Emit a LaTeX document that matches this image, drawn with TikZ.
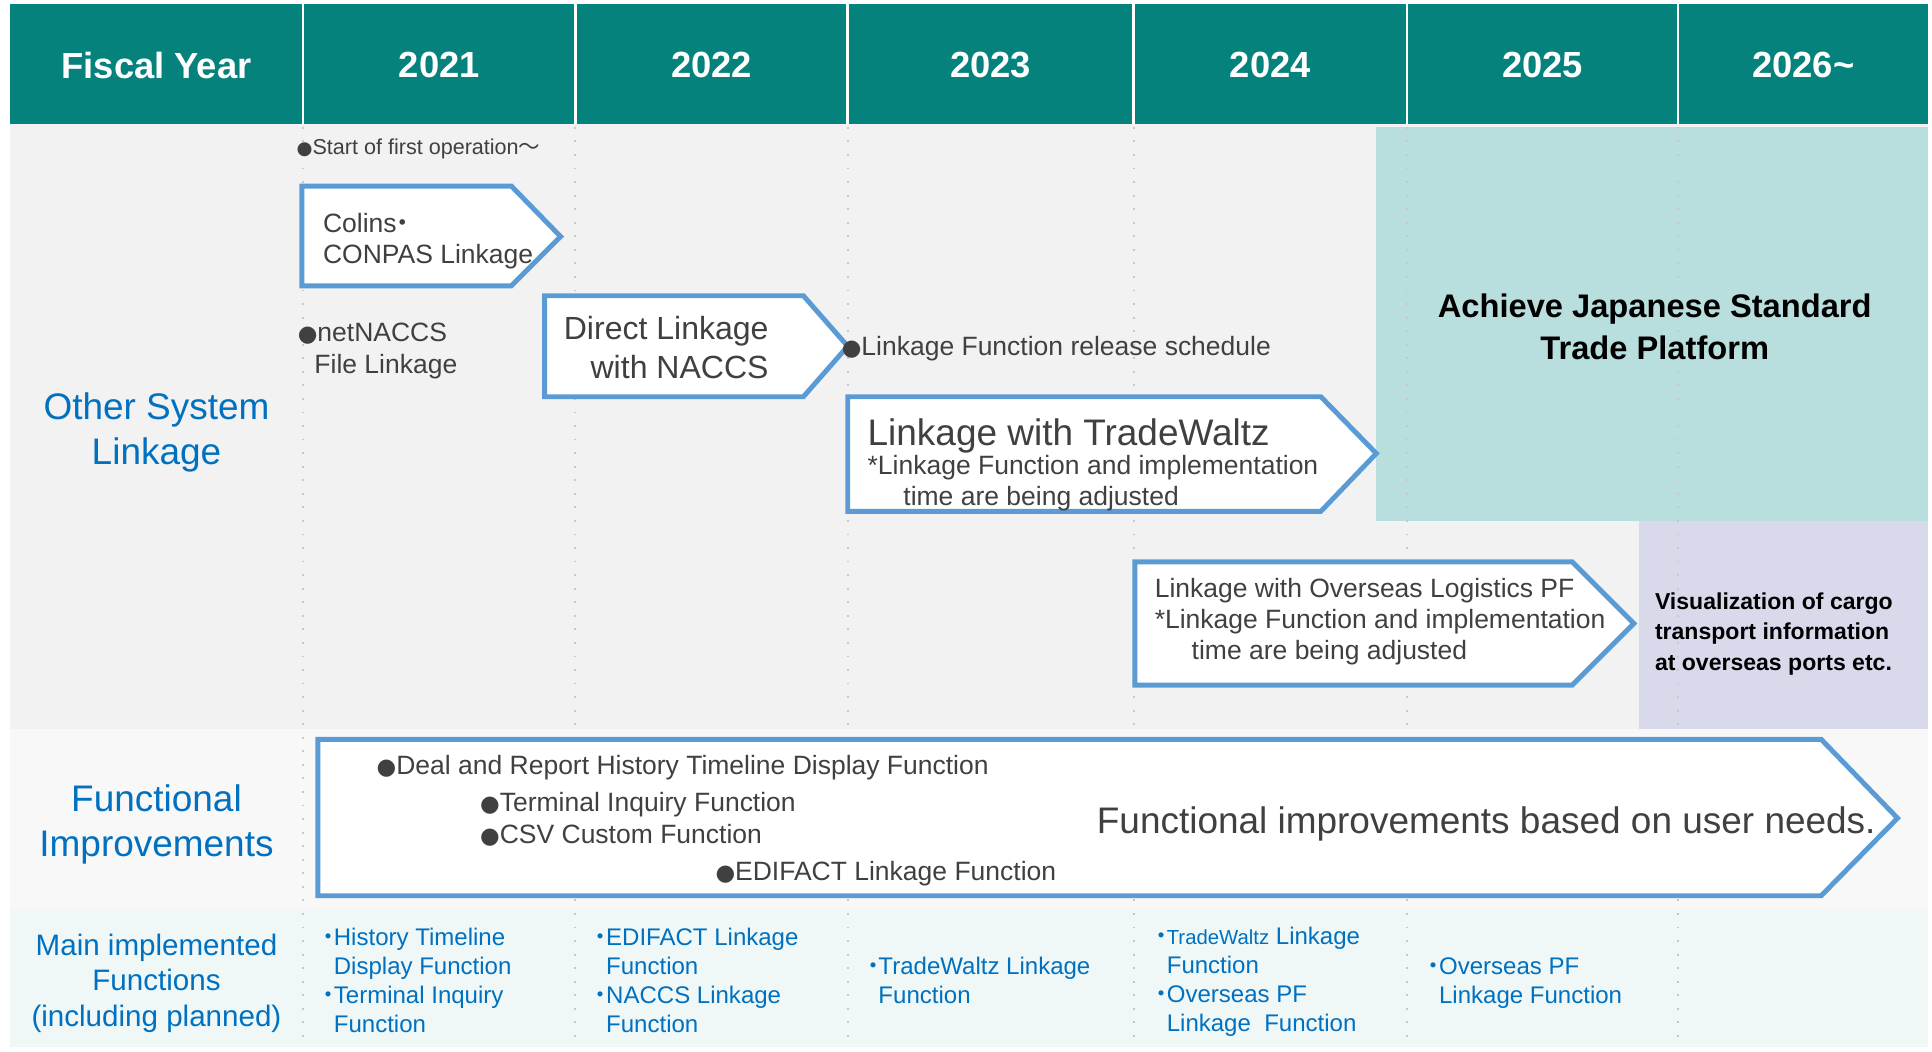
\documentclass[tikz,border=0pt]{standalone}
\usepackage{fontspec}
\usepackage{graphicx}
\setmainfont{Liberation Sans}
\newfontfamily\cjk{Noto Sans CJK JP}
\newfontfamily\symfont{DejaVu Sans}
\usepackage{tikz}
\usetikzlibrary{positioning}

\definecolor{headteal}{HTML}{06827D}
\definecolor{platteal}{HTML}{B8DFDD}
\definecolor{vislav}{HTML}{D9D9EC}
\definecolor{bandgray}{HTML}{F2F2F2}
\definecolor{bandwhite}{HTML}{F8F8F8}
\definecolor{bandcyan}{HTML}{EFF8F7}
\definecolor{arrowblue}{HTML}{5B9BD5}
\definecolor{labelblue}{HTML}{0070C0}
\definecolor{darktext}{HTML}{404040}
\definecolor{gridgray}{HTML}{C8C8C8}

\newcommand{\kdot}{\makebox[0.45em][c]{\cjk ・}}
\newcommand{\bul}{\scalebox{0.85}{\symfont ●}}

\tikzset{
  yearhead/.style={text=white, inner sep=0pt, font=\bfseries\fontsize{29.5}{34}\selectfont},
  rowhead/.style={text=labelblue, align=center, inner sep=0pt, font=\fontsize{30}{36.5}\selectfont},
  arrowbox/.style={draw=arrowblue, line width=4pt, fill=white},
  notetext/.style={text=darktext, anchor=west, align=left, inner sep=0pt, font=\fontsize{21.5}{25.5}\selectfont},
  bignote/.style={notetext, font=\fontsize{30}{36}\selectfont},
  smallnote/.style={notetext, font=\fontsize{17.5}{21}\selectfont},
  mainfunc/.style={text=labelblue, anchor=west, align=left, inner sep=0pt, font=\fontsize{19.5}{23.5}\selectfont},
  goaltext/.style={text=black, align=center, inner sep=0pt, font=\bfseries\fontsize{26.5}{34}\selectfont},
}

\begin{document}
\begin{tikzpicture}[x=1pt, y=-1pt]

\fill[white] (0,0) rectangle (1568,853);
\useasboundingbox (0,0) rectangle (1568,853);

% bands
\fill[headteal] (8,3) rectangle (1565,101);
\fill[bandgray] (8,101) rectangle (1565,592);
\fill[bandwhite] (8,592) rectangle (1565,738);
\fill[bandcyan] (8,738) rectangle (1565,850);

\fill[platteal] (1117,103) rectangle (1565,423);
\fill[vislav] (1330,423) rectangle (1565,592);

\foreach \xc in {246,467,688,920,1142,1362} {
  \draw[white, line width=2pt] (\xc,3) -- (\xc,101);
  \draw[gridgray, line width=1.5pt, dash pattern=on 1.5pt off 9.5pt] (\xc,103) -- (\xc,850);
}

\foreach \xa/\xb/\yr/\nm in {8/246/Fiscal Year/fy, 246/467/2021/y21, 467/688/2022/y22, 688/920/2023/y23, 920/1142/2024/y24, 1142/1362/2025/y25, 1362/1565/2026\textasciitilde/y26}
  \node[yearhead] (\nm) at ({(\xa+\xb)/2},53) {\yr};

% arrows
\draw[arrowbox] (245,151) -- (415,151) -- (455,192) -- (415,232) -- (245,232) -- cycle;
\draw[arrowbox] (442,240) -- (652,240) -- (688,281) -- (652,322) -- (442,322) -- cycle;
\draw[arrowbox] (688,322) -- (1072,322) -- (1117,368) -- (1072,415) -- (688,415) -- cycle;
\draw[arrowbox] (921,456) -- (1276,456) -- (1326,506) -- (1276,556) -- (921,556) -- cycle;
\draw[arrowbox] (258,600) -- (1478,600) -- (1540,664) -- (1478,727) -- (258,727) -- cycle;

\node[smallnote] (startop) at (240.5,121) {\bul Start of first operation{\cjk ～}};
\node[notetext] (colins) at (262,195.5) {Colins\kdot\\CONPAS Linkage};
\node[notetext] (netnaccs) at (241.5,285) {\bul netNACCS\\\hspace*{13.5pt}File Linkage};
\node[notetext, anchor=east, align=right, font=\fontsize{26}{31}\selectfont] (naccs) at (624,282) {Direct Linkage\\with NACCS};
\node[notetext] (release) at (683,283) {\bul Linkage Function release schedule};
\node[bignote] (twtitle) at (704,354) {Linkage with TradeWaltz};
\node[notetext] (twnote) at (704,392) {*Linkage Function and implementation\\\hspace*{29pt}time are being adjusted};
\node[notetext] (overseas) at (937,504.5) {Linkage with Overseas Logistics PF\\{*}Linkage Function and implementation\\\hspace*{30pt}time are being adjusted};

\node[notetext] (deal) at (305.5,623) {\bul Deal and Report History Timeline Display Function};
\node[notetext] (terminal) at (389.5,653) {\bul Terminal Inquiry Function};
\node[notetext] (csv) at (389.5,678) {\bul CSV Custom Function};
\node[notetext] (edifact) at (580.5,709) {\bul EDIFACT Linkage Function};
\node[bignote] (userneeds) at (890,669) {Functional improvements based on user needs.};

\node[goaltext] (jstp) at (1343,265) {Achieve Japanese Standard\\Trade Platform};
\node[goaltext, anchor=west, align=left, font=\bfseries\fontsize{18.7}{24.5}\selectfont] (cargo) at (1343,514.5) {Visualization of cargo\\transport information\\at overseas ports etc.};

\node[rowhead] (osl) at (127,351) {Other System\\Linkage};
\node[rowhead] (fimp) at (127,669.5) {Functional\\Improvements};
\node[rowhead, font=\fontsize{24}{28.5}\selectfont] (mif) at (127,798) {Main implemented\\Functions\\(including planned)};

\node[mainfunc] (f21) at (262,796) {\kdot History Timeline\\\hspace*{0.45em}Display Function\\\kdot Terminal Inquiry\\\hspace*{0.45em}Function};
\node[mainfunc] (f22) at (483,796) {\kdot EDIFACT Linkage\\\hspace*{0.45em}Function\\\kdot NACCS Linkage\\\hspace*{0.45em}Function};
\node[mainfunc] (f23) at (704,795.5) {\kdot TradeWaltz Linkage\\\hspace*{0.45em}Function};
\node[mainfunc] (f24) at (938,797) {\kdot{\fontsize{16.5}{18}\selectfont TradeWaltz} Linkage\\\hspace*{0.45em}Function\\\kdot Overseas PF\\\hspace*{0.45em}Linkage\ \ Function};
\node[mainfunc] (f25) at (1159,797.5) {\kdot Overseas PF\\\hspace*{0.45em}Linkage Function};

\end{tikzpicture}
\end{document}
